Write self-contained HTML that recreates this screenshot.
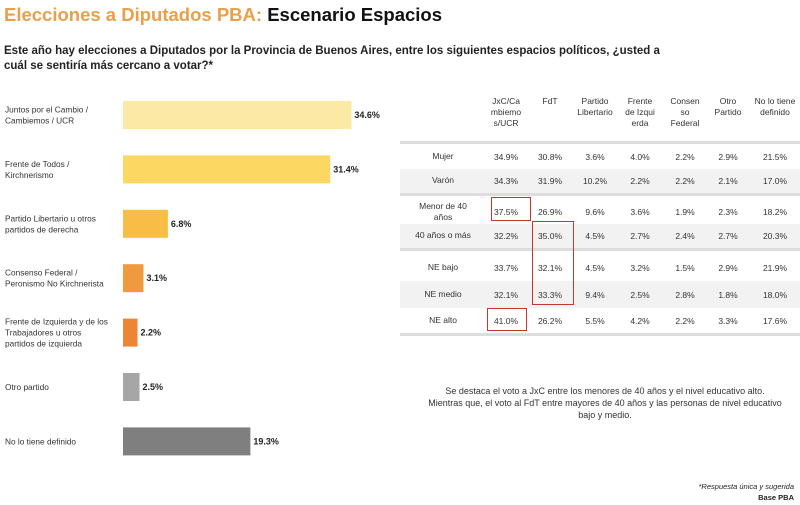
<!DOCTYPE html>
<html><head><meta charset="utf-8"><style>
body{margin:0;width:800px;height:505px;background:#fff;font-family:"Liberation Sans",sans-serif;position:relative;overflow:hidden}
.abs{position:absolute}
table{position:absolute;left:400px;top:92px;border-collapse:collapse;font-size:8.5px;color:#333}
td,th{text-align:center;padding:0;font-weight:normal}
</style></head><body>
<div class="abs" style="left:4px;top:4px;font-size:18.5px;font-weight:bold;color:#e8a04b">Elecciones a Diputados PBA: <span style="color:#111">Escenario Espacios</span></div>
<div class="abs" style="left:4px;top:44px;font-size:11.5px;font-weight:bold;color:#222;line-height:15px;width:672px">Este año hay elecciones a Diputados por la Provincia de Buenos Aires, entre los siguientes espacios políticos, ¿usted a cuál se sentiría más cercano a votar?*</div>
<svg id="chart" class="abs" style="left:0;top:0" width="400" height="505"></svg>
<table id="tbl"></table>
<div class="abs" style="left:420px;top:385px;width:370px;text-align:center;font-size:9px;line-height:12px;color:#333">Se destaca el voto a JxC entre los menores de 40 años y el nivel educativo alto.<br>Mientras que, el voto al FdT entre mayores de 40 años y las personas de nivel educativo bajo y medio.</div>
<div class="abs" style="right:6px;top:481px;text-align:right;font-size:7.5px;line-height:11px;color:#222;font-style:italic">*Respuesta única y sugerida<br><b style="font-style:normal">Base PBA</b></div>
<script>
const categories=["Juntos por el Cambio / Cambiemos / UCR","Frente de Todos / Kirchnerismo","Partido Libertario u otros partidos de derecha","Consenso Federal / Peronismo No Kirchnerista","Frente de Izquierda y de los Trabajadores u otros partidos de izquierda","Otro partido","No lo tiene definido"];
const labelLines=[["Juntos por el Cambio /","Cambiemos / UCR"],["Frente de Todos /","Kirchnerismo"],["Partido Libertario u otros","partidos de derecha"],["Consenso Federal /","Peronismo No Kirchnerista"],["Frente de Izquierda y de los","Trabajadores u otros","partidos de izquierda"],["Otro partido"],["No lo tiene definido"]];
const values=[34.6,31.4,6.8,3.1,2.2,2.5,19.3];
const colors=["#fde9a6","#fcd862","#f7bd45","#f09a3e","#ec8535","#a6a6a6","#7f7f7f"];
const svg=document.getElementById('chart');
const NS="http://www.w3.org/2000/svg";
const x=v=>123+v*6.6;
const y=i=>101+i*54.4;
values.forEach((v,i)=>{
 const r=document.createElementNS(NS,'rect');
 r.setAttribute('x',123);r.setAttribute('y',y(i));r.setAttribute('width',x(v)-123);r.setAttribute('height',28);r.setAttribute('fill',colors[i]);
 
 
 svg.appendChild(r);
 const t=document.createElementNS(NS,'text');
 t.setAttribute('x',x(v)+3);t.setAttribute('y',y(i)+17);t.setAttribute('font-size','9');t.setAttribute('font-weight','bold');t.setAttribute('fill','#222');
 t.textContent=v.toFixed(1)+'%';
 
 
 svg.appendChild(t);
 const L=labelLines[i];
 L.forEach((ln,k)=>{
  const tt=document.createElementNS(NS,'text');
  tt.setAttribute('x',5);tt.setAttribute('y',y(i)+14+(k-(L.length-1)/2)*11+3);tt.setAttribute('font-size','8.3');tt.setAttribute('fill','#333');
  tt.textContent=ln;
  
  
  svg.appendChild(tt);
 });
});
const cols=["","JxC/Ca<br>mbiemo<br>s/UCR","FdT","Partido<br>Libertario","Frente<br>de Izqui<br>erda","Consen<br>so<br>Federal","Otro<br>Partido","No lo tiene<br>definido"];
const colW=[86,40,48,42,48,42,44,50];
const rowLabels=["Mujer","Varón","Menor de 40<br>años","40 años o más","NE bajo","NE medio","NE alto"];
const rowData=[[34.9,30.8,3.6,4.0,2.2,2.9,21.5],[34.3,31.9,10.2,2.2,2.2,2.1,17.0],[37.5,26.9,9.6,3.6,1.9,2.3,18.2],[32.2,35.0,4.5,2.7,2.4,2.7,20.3],[33.7,32.1,4.5,3.2,1.5,2.9,21.9],[32.1,33.3,9.4,2.5,2.8,1.8,18.0],[41.0,26.2,5.5,4.2,2.2,3.3,17.6]];
const rowH=[25,25,25,25,27,27,25];
const shaded=[false,true,false,true,false,true,false];
const sepAfter=[1,3];
const tbl=document.getElementById('tbl');
let h='<tr style="height:49px">'+cols.map((c,i)=>`<th style="width:${colW[i]}px;line-height:11px;vertical-align:top;padding-top:4px">${c}</th>`).join('')+'</tr>';
h+='<tr style="height:3px"><td colspan="8" style="background:#ddd"></td></tr>';
rowData.forEach((r,i)=>{
 h+=`<tr style="height:${rowH[i]}px;background:${shaded[i]?'#f2f2f2':'#fff'}"><td style="line-height:11px">${rowLabels[i]}</td>`+r.map(v=>`<td>${v.toFixed(1)}%</td>`).join('')+'</tr>';
 if(sepAfter.includes(i)) h+='<tr style="height:5px"><td colspan="8" style="border-top:3px solid #ddd"></td></tr>';
});
h+='<tr style="height:3px"><td colspan="8" style="background:#ddd"></td></tr>';
tbl.innerHTML=h;
</script>
<div class="abs" style="left:491px;top:197px;width:38px;height:22px;border:1px solid #c0392b"></div>
<div class="abs" style="left:532px;top:221px;width:40px;height:82px;border:1px solid #c0392b"></div>
<div class="abs" style="left:487px;top:308px;width:38px;height:21px;border:1px solid #c0392b"></div>
</body></html>
